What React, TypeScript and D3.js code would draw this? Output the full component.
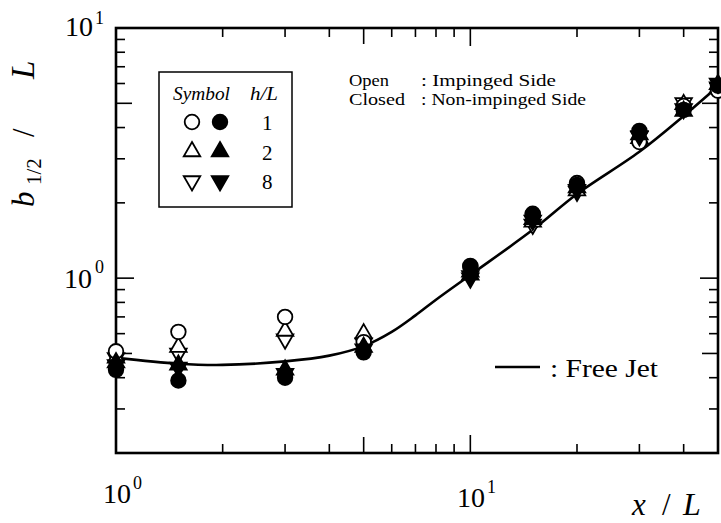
import React from "react";
import * as d3 from "d3";

// Streamwise stations x/L
const stations = [1, 1.5, 3, 5, 10, 15, 20, 30, 40, 50];

// Half-width b1/2/L, open = impinged side, closed = non-impinged side
const circleOpen = [0.51, 0.61, 0.70, 0.555, 1.12, 1.81, 2.40, 3.50, 4.88, 5.62];
const circleClosed = [0.43, 0.39, 0.40, 0.505, 1.11, 1.79, 2.36, 3.88, 4.70, 5.88];
const triUpOpen = [0.48, 0.53, 0.615, 0.60, 1.06, 1.68, 2.24, 3.62, 4.95, 5.75];
const triUpClosed = [0.46, 0.45, 0.43, 0.53, 1.03, 1.72, 2.30, 3.75, 4.65, 5.95];
const triDownOpen = [0.48, 0.50, 0.57, 0.55, 1.02, 1.64, 2.22, 3.68, 5.02, 5.80];
const triDownClosed = [0.45, 0.44, 0.415, 0.52, 1.00, 1.70, 2.26, 3.70, 4.75, 6.00];

// Free jet reference curve
const jetX = [1, 1.5, 2, 3, 4, 5, 6, 7, 8, 10, 15, 20, 30, 40, 50];
const jetY = [0.48, 0.455, 0.45, 0.465, 0.49, 0.535, 0.61, 0.71, 0.82, 1.03, 1.56, 2.17, 3.2, 4.45, 5.85];

const xMinor = [2, 3, 4, 6, 7, 8, 9, 20, 30, 40];
const xMid = [5];
const xMajor = [10];
const yMinor = [0.3, 0.4, 0.6, 0.7, 0.8, 0.9, 2, 3, 4, 6, 7, 8, 9];
const yMid = [0.5, 5];
const yMajor = [1];

const legendRows = [
  { shape: "circle", label: "1" },
  { shape: "up", label: "2" },
  { shape: "down", label: "8" },
];

const L = 116, R = 718, T = 28, B = 453;
const FONT = "Liberation Serif, Times New Roman, Times, serif";

function markerPath(shape: string, cx: number, cy: number) {
  const s = 16.5;
  const h = (s * Math.sqrt(3)) / 2;
  if (shape === "circle") {
    const r = 7.3;
    const p = d3.path();
    p.moveTo(cx + r, cy);
    p.arc(cx, cy, r, 0, Math.PI * 2);
    return p.toString();
  }
  if (shape === "up") {
    return `M${cx},${cy - (2 * h) / 3}L${cx + s / 2},${cy + h / 3}L${cx - s / 2},${cy + h / 3}Z`;
  }
  return `M${cx},${cy + (2 * h) / 3}L${cx + s / 2},${cy - h / 3}L${cx - s / 2},${cy - h / 3}Z`;
}

const tx = { fontFamily: FONT };
const it = { fontFamily: FONT, fontStyle: "italic" as const };

export default function App() {
  const x = d3.scaleLog().domain([1, 50]).range([L, R]);
  const y = d3.scaleLog().domain([0.2, 10]).range([B, T]);

  const jetPts: [number, number][] = jetX.map((v, i) => [x(v), y(jetY[i])]);
  const jetPath = d3.line().curve(d3.curveCatmullRom.alpha(0.5))(jetPts) || "";

  const series = [
    { vals: triDownOpen, shape: "down", filled: false },
    { vals: triUpOpen, shape: "up", filled: false },
    { vals: circleOpen, shape: "circle", filled: false },
    { vals: triDownClosed, shape: "down", filled: true },
    { vals: triUpClosed, shape: "up", filled: true },
    { vals: circleClosed, shape: "circle", filled: true },
  ];

  const tickLen = (kind: string) => (kind === "major" ? 18 : kind === "mid" ? 16 : 9);
  const xTicks = [
    ...xMinor.map((v) => ({ v, k: "minor" })),
    ...xMid.map((v) => ({ v, k: "mid" })),
    ...xMajor.map((v) => ({ v, k: "major" })),
  ];
  const yTicks = [
    ...yMinor.map((v) => ({ v, k: "minor" })),
    ...yMid.map((v) => ({ v, k: "mid" })),
    ...yMajor.map((v) => ({ v, k: "major" })),
  ];

  return (
    <svg width={721} height={523} style={{ display: "block", position: "absolute", left: 0, top: 0 }}>
      <rect width={721} height={523} fill="#fff" />

      {/* ticks */}
      <g stroke="#000" strokeWidth={1.6}>
        {xTicks.map((t, i) => (
          <g key={"xt" + i}>
            <line x1={x(t.v)} x2={x(t.v)} y1={B} y2={B - tickLen(t.k)} />
            <line x1={x(t.v)} x2={x(t.v)} y1={T} y2={T + tickLen(t.k)} />
          </g>
        ))}
        {yTicks.map((t, i) => (
          <g key={"yt" + i}>
            <line x1={L} x2={L + tickLen(t.k)} y1={y(t.v)} y2={y(t.v)} />
            <line x1={R} x2={R - tickLen(t.k)} y1={y(t.v)} y2={y(t.v)} />
          </g>
        ))}
      </g>

      {/* frame */}
      <rect x={L} y={T} width={R - L} height={B - T} fill="none" stroke="#000" strokeWidth={2.6} />

      {/* free jet curve */}
      <path d={jetPath} fill="none" stroke="#000" strokeWidth={2.6} />

      {/* data markers */}
      {series.map((s, si) => (
        <g key={"s" + si}>
          {stations.map((xv, i) => (
            <path
              key={i}
              d={markerPath(s.shape, x(xv), y(s.vals[i]))}
              fill={s.filled ? "#000" : "#fff"}
              stroke="#000"
              strokeWidth={1.8}
            />
          ))}
        </g>
      ))}

      {/* y tick labels */}
      <text style={tx} x={65} y={36} fontSize={28}>10</text>
      <text style={tx} x={95} y={24} fontSize={18}>1</text>
      <text style={tx} x={64} y={288} fontSize={28}>10</text>
      <text style={tx} x={95} y={273} fontSize={18}>0</text>

      {/* x tick labels */}
      <text style={tx} x={103} y={503} fontSize={28}>10</text>
      <text style={tx} x={133} y={489} fontSize={18}>0</text>
      <text style={tx} x={457} y={507} fontSize={28}>10</text>
      <text style={tx} x={487} y={493} fontSize={18}>1</text>

      {/* axis titles */}
      <text style={it} x={632} y={515} fontSize={31}>x</text>
      <text style={tx} x={662} y={515} fontSize={31}>/</text>
      <text style={it} x={683} y={515} fontSize={32}>L</text>
      <g transform="translate(34,0) rotate(-90)">
        <text style={it} x={-207} y={0} fontSize={31}>b</text>
        <text style={tx} x={-185} y={7} fontSize={21}>1/2</text>
        <text style={tx} x={-137} y={0} fontSize={31}>/</text>
        <text style={it} x={-79} y={0} fontSize={33}>L</text>
      </g>

      {/* symbol legend */}
      <rect x={159} y={72} width={133} height={135} fill="#fff" stroke="#000" strokeWidth={1.5} />
      <text style={it} x={173} y={100} fontSize={18} textLength={57} lengthAdjust="spacingAndGlyphs">Symbol</text>
      <text style={it} x={250} y={100} fontSize={18} textLength={28} lengthAdjust="spacingAndGlyphs">h/L</text>
      {legendRows.map((r, i) => {
        const cy = 122 + i * 29.5;
        return (
          <g key={"lg" + i}>
            <path d={markerPath(r.shape, 192, cy)} fill="#fff" stroke="#000" strokeWidth={1.8} />
            <path d={markerPath(r.shape, 220, cy)} fill="#000" stroke="#000" strokeWidth={1.8} />
            <text style={tx} x={262} y={cy + 8} fontSize={21}>{r.label}</text>
          </g>
        );
      })}

      {/* open / closed note */}
      <g style={tx} fontSize={16.5}>
        <text x={349} y={86} textLength={40} lengthAdjust="spacingAndGlyphs">Open</text>
        <text x={421} y={86} textLength={135} lengthAdjust="spacingAndGlyphs">: Impinged Side</text>
        <text x={349} y={105} textLength={56} lengthAdjust="spacingAndGlyphs">Closed</text>
        <text x={421} y={105} textLength={165} lengthAdjust="spacingAndGlyphs">: Non-impinged Side</text>
      </g>

      {/* free jet note */}
      <line x1={495} x2={540} y1={367} y2={367} stroke="#000" strokeWidth={2.4} />
      <text style={tx} x={550} y={377} fontSize={25} textLength={108} lengthAdjust="spacingAndGlyphs">: Free Jet</text>
    </svg>
  );
}
